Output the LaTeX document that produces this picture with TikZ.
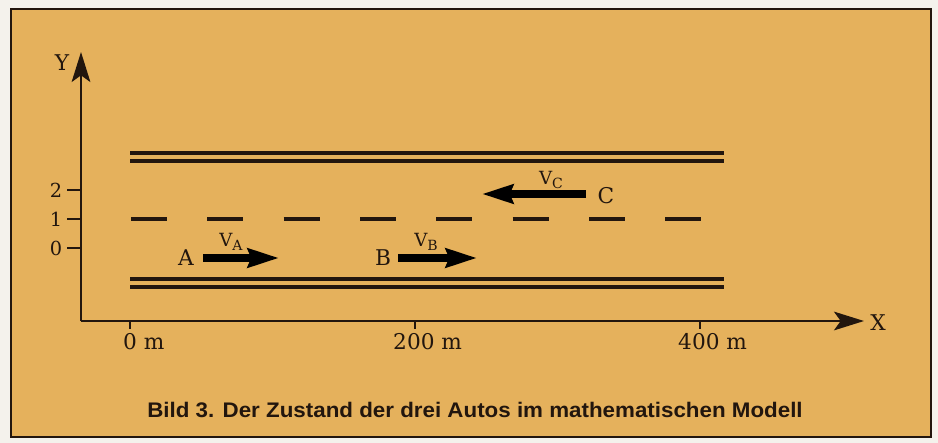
\documentclass[tikz,border=0pt]{standalone}
\usepackage{fontspec}
\setmainfont{DejaVu Serif}
\newfontfamily\capfont{Liberation Sans}
\usetikzlibrary{arrows.meta, positioning}
\definecolor{paper}{RGB}{229,177,92}
\definecolor{ink}{RGB}{34,22,14}
\definecolor{margin}{RGB}{244,242,236}
\newcommand{\velo}[1]{V\raisebox{-0.45ex}{\fontsize{12}{14}\selectfont #1}}

\begin{document}
\begin{tikzpicture}[
        x=0.3mm, y=-0.3mm,
        lbl/.style={font=\fontsize{18.5}{22}\selectfont, text=ink, inner sep=0pt},
        num/.style={font=\fontsize{16.5}{19}\selectfont, text=ink, inner sep=0pt},
        vlbl/.style={font=\fontsize{15.5}{18}\selectfont, text=ink, inner sep=0pt},
        road/.style={draw=ink, line width=2.8pt},
        lane/.style={draw=ink, line width=2.8pt, dash pattern=on 10.8mm off 12.1mm},
        axis/.style={draw=ink, line width=1.8pt, -{Stealth[length=9mm, width=5.6mm, inset=2mm]}},
        tickmark/.style={draw=ink, line width=2.2pt},
        vel/.style={draw=black, line width=6pt, -{Stealth[length=9.3mm, width=5.6mm, inset=1mm]}}
    ]
        % page and frame
        \fill[margin] (0,0) rectangle (938,443);
        \draw[ink, line width=2.2pt, fill=paper] (11,9) rectangle (931,437);

        % axes
        \coordinate (O) at (81,321);
        \coordinate (ytip) at (81,52);
        \coordinate (xtip) at (864,321);
        \draw[axis] (O) -- (ytip);
        \draw[axis] (O) -- (xtip);
        \node[lbl] (ylab) at (62,63) {Y};
        \node[lbl] (xlab) at (878,323) {X};

        % lane numbers on the y axis
        \foreach \v/\y in {0/248, 1/219, 2/190} {
            \coordinate (yt\v) at (81,\y);
            \node[num] (yl\v) at (56,\y) {\v};
            \draw[tickmark] (yt\v) -- ++(-14,0);
        }

        % distances on the x axis (number centred under its tick)
        \foreach \d/\x/\h in {0/130/7, 200/415/22, 400/700/22} {
            \coordinate (xt\d) at (\x,321);
            \node[lbl, anchor=west] (xl\d) at (\x-\h,342) {\d\ m};
            \draw[tickmark] (xt\d) -- ++(0,8);
        }

        % road edges and middle line
        \coordinate (top1w) at (130,153);  \coordinate (top1e) at (724,153);
        \coordinate (top2w) at (130,161);  \coordinate (top2e) at (724,161);
        \coordinate (bot1w) at (130,279);  \coordinate (bot1e) at (724,279);
        \coordinate (bot2w) at (130,287);  \coordinate (bot2e) at (724,287);
        \coordinate (midw) at (131,219);   \coordinate (mide) at (702,219);
        \draw[road] (top1w) -- (top1e);
        \draw[road] (top2w) -- (top2e);
        \draw[road] (bot1w) -- (bot1e);
        \draw[road] (bot2w) -- (bot2e);
        \draw[lane] (midw) -- (mide);

        % the three cars
        \node[lbl] (A) at (186,258) {A};
        \node[lbl] (B) at (383,258) {B};
        \node[lbl] (C) at (606,196) {C};
        \node[vlbl] (vA) at (231,242) {\velo{A}};
        \node[vlbl] (vB) at (426,242) {\velo{B}};
        \node[vlbl] (vC) at (551,180) {\velo{C}};
        \coordinate (vAs) at (203,258);  \coordinate (vAe) at (279,258);
        \coordinate (vBs) at (398,258);  \coordinate (vBe) at (477,258);
        \coordinate (vCs) at (586,194);  \coordinate (vCe) at (482,194);
        \draw[vel] (vAs) -- (vAe);
        \draw[vel] (vBs) -- (vBe);
        \draw[vel] (vCs) -- (vCe);

        % caption
        \node[font=\capfont\bfseries\fontsize{18}{21}\selectfont, text=ink, inner sep=0pt, xscale=1.06] (cap) at (475,410)
            {Bild 3. Der Zustand der drei Autos im mathematischen Modell};
    \end{tikzpicture}
\end{document}
